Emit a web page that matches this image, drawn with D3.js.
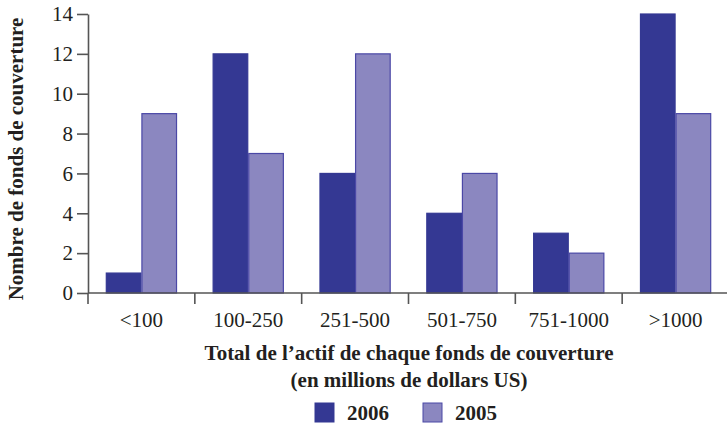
<!DOCTYPE html>
<html>
<head>
<meta charset="utf-8">
<script src="https://cdn.jsdelivr.net/npm/d3@7"></script>
<style>
  body { margin: 0; background: #fff; }
  svg text { font-family: "Liberation Serif", "Times New Roman", serif; fill: #231f20; }
</style>
</head>
<body>
<svg id="chart" width="727" height="425"></svg>
<script>
// data
const categories = ['<100', '100-250', '251-500', '501-750', '751-1000', '>1000'];
const series = ['2006', '2005'];
const values2006 = [1, 12, 6, 4, 3, 14];
const values2005 = [9, 7, 12, 6, 2, 9];
const yTicks = [0, 2, 4, 6, 8, 10, 12, 14];

const colors = { '2006': '#343893', '2005': '#8b87c0' };
const strokes = { '2006': '#343893', '2005': '#4b48a6' };

let svg = d3.select('#chart');
let mLeft = 88, mRight = 729, mTop = 14, mBottom = 293;

let xScale = d3.scaleBand()
    .domain(categories)
    .range([mLeft, mRight])
    .paddingInner(0)
    .paddingOuter(0);

let inner = d3.scaleBand()
    .domain(series)
    .range([0, xScale.bandwidth()])
    .paddingOuter(0.5)
    .paddingInner(0);

let yScale = d3.scaleLinear()
    .domain([0, 14])
    .range([mBottom, mTop]);

let rows = categories.map(function (c, i) {
    return { cat: c, vals: [{ s: '2006', v: values2006[i] }, { s: '2005', v: values2005[i] }] };
});

// bars
svg.selectAll('.grp')
    .data(rows)
    .enter()
    .append('g')
    .attr('class', 'grp')
    .attr('transform', function (d) { return `translate(${xScale(d.cat)},0)`; })
    .selectAll('rect')
    .data(function (d) { return d.vals; })
    .enter()
    .append('rect')
    .attr('x', function (d) { return inner(d.s) + 0.5; })
    .attr('y', function (d) { return yScale(d.v); })
    .attr('width', inner.bandwidth() - 1)
    .attr('height', function (d) { return mBottom - yScale(d.v); })
    .style('fill', function (d) { return colors[d.s]; })
    .style('stroke', function (d) { return strokes[d.s]; })
    .style('stroke-width', 1.2);

// y axis
let yAxis = svg.append('g')
    .attr('transform', `translate(${mLeft},0)`)
    .call(d3.axisLeft(yScale).tickValues(yTicks).tickSize(11).tickPadding(4).tickSizeOuter(0));

// x axis: ticks at band edges
let edges = categories.map(function (c) { return xScale(c); }).concat([mRight]);
let xAxisG = svg.append('g').attr('transform', `translate(0,${mBottom})`);
xAxisG.append('line')
    .attr('x1', mLeft).attr('x2', mRight)
    .attr('y1', 0).attr('y2', 0);
xAxisG.selectAll('.xt')
    .data(edges)
    .enter()
    .append('line')
    .attr('class', 'xt')
    .attr('x1', function (d) { return d; }).attr('x2', function (d) { return d; })
    .attr('y1', 0).attr('y2', 11);
xAxisG.selectAll('line').style('stroke', '#555').style('stroke-width', 1.6);
xAxisG.selectAll('.xl')
    .data(categories)
    .enter()
    .append('text')
    .attr('class', 'xl')
    .attr('x', function (d) { return xScale(d) + xScale.bandwidth() / 2; })
    .attr('y', 34)
    .attr('text-anchor', 'middle')
    .style('font-size', '21px')
    .text(function (d) { return d; });

yAxis.select('.domain').style('stroke', '#555').style('stroke-width', 1.6);
yAxis.selectAll('.tick line').style('stroke', '#555').style('stroke-width', 1.6);
yAxis.selectAll('.tick text')
    .style('font-size', '21px')
    .style('font-family', '"Liberation Serif", serif')
    .style('fill', '#231f20');

// axis titles
svg.append('text')
    .attr('x', 409).attr('y', 360)
    .attr('text-anchor', 'middle')
    .style('font-size', '21px').style('font-weight', 'bold')
    .text('Total de l\u2019actif de chaque fonds de couverture');
svg.append('text')
    .attr('x', 409).attr('y', 387)
    .attr('text-anchor', 'middle')
    .style('font-size', '21px').style('font-weight', 'bold')
    .text('(en millions de dollars US)');
svg.append('text')
    .attr('transform', 'translate(23,159) rotate(-90)')
    .attr('text-anchor', 'middle')
    .style('font-size', '21px').style('font-weight', 'bold')
    .text('Nombre de fonds de couverture');

// legend
let legendX = [315, 423];
let legend = svg.selectAll('.leg')
    .data(series)
    .enter()
    .append('g')
    .attr('class', 'leg')
    .attr('transform', function (d, i) { return `translate(${legendX[i]},403)`; });
legend.append('rect')
    .attr('width', 19).attr('height', 19)
    .style('fill', function (d) { return colors[d]; })
    .style('stroke', function (d) { return strokes[d]; });
legend.append('text')
    .attr('x', 32).attr('y', 17)
    .style('font-size', '21px').style('font-weight', 'bold')
    .text(function (d) { return d; });
</script>
</body>
</html>
